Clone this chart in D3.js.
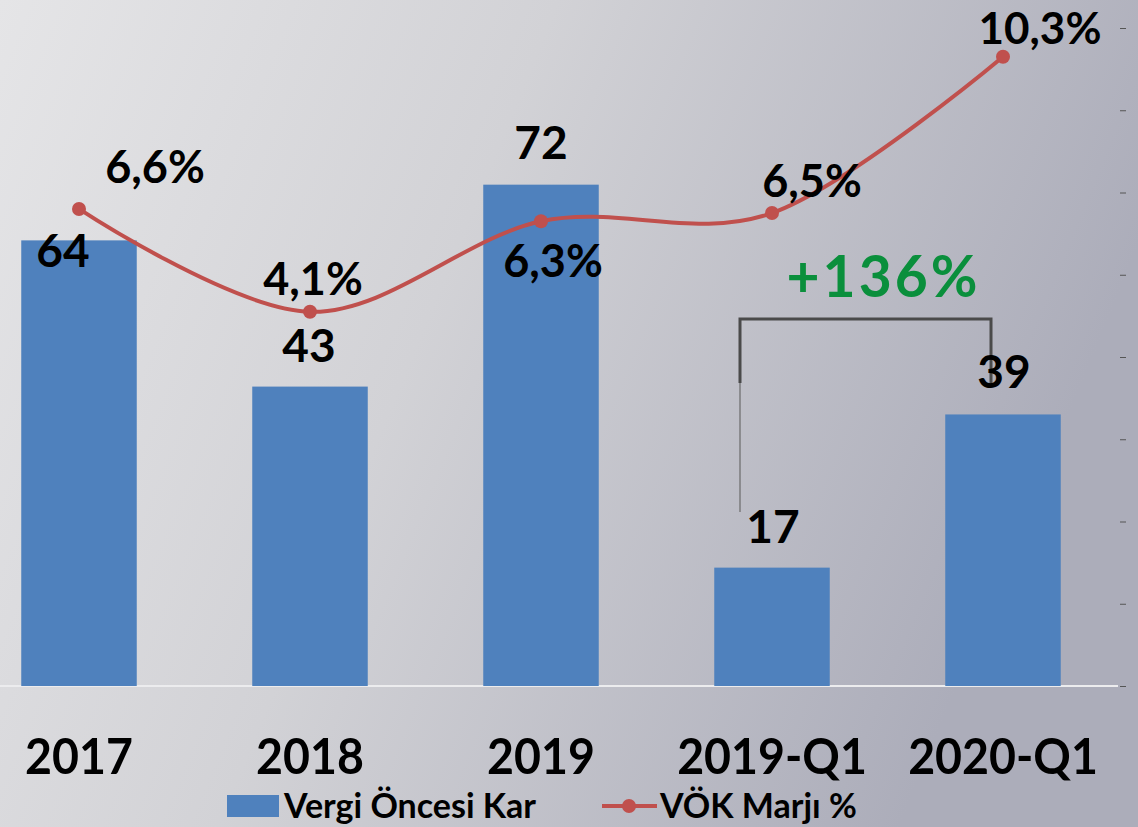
<!DOCTYPE html>
<html>
<head>
<meta charset="utf-8">
<script src="https://cdn.jsdelivr.net/npm/d3@7"></script>
<style>
  body { margin: 0; overflow: hidden; }
  text { font-family: Lato, "Open Sans", sans-serif; font-weight: bold; }
</style>
</head>
<body>
<div id="chart"></div>
<script>
// chart values
var categories = ['2017', '2018', '2019', '2019-Q1', '2020-Q1'];
var profit = [64, 43, 72, 17, 39];
var marginPct = [6.6, 4.1, 6.3, 6.5, 10.3];
var marginLabels = ['6,6%', '4,1%', '6,3%', '6,5%', '10,3%'];
var rightTicks = [-5, -3, -1, 1, 3, 5, 7, 9, 11];
var seriesNames = ['Vergi Öncesi Kar', 'VÖK Marjı %'];
var growthLabel = '+136%';

var width = 1138, height = 827;
var barColor = '#4f81bd', lineColor = '#c0504d';

var svg = d3.select('#chart').append('svg')
  .attr('width', width)
  .attr('height', height);

// background gradient
var grad = svg.append('defs').append('linearGradient')
  .attr('id', 'bg')
  .attr('x1', '0').attr('y1', '0').attr('x2', '1').attr('y2', '0.3');
grad.append('stop').attr('offset', '0%').attr('stop-color', '#e5e5e7');
grad.append('stop').attr('offset', '45%').attr('stop-color', '#d2d2d6');
grad.append('stop').attr('offset', '100%').attr('stop-color', '#acadba');
svg.append('rect').attr('width', width).attr('height', height).attr('fill', 'url(#bg)');

// scales
var x = d3.scaleBand().domain(categories).range([-36.5, 1118.5])
  .paddingInner(0.5).paddingOuter(0.25);
var y = d3.scaleLinear().domain([0, 94.5]).range([686, 28]);
var y2 = d3.scaleLinear().domain([-5, 11]).range([686, 28]);
var cx = function (i) { return x(categories[i]) + x.bandwidth() / 2; };

// baseline
svg.append('line')
  .attr('x1', 0).attr('x2', 1118)
  .attr('y1', y(0)).attr('y2', y(0))
  .attr('stroke', '#ececee').attr('stroke-width', 2);

// right axis ticks (no labels)
var ax = svg.append('g')
  .attr('transform', 'translate(1120,0)')
  .call(d3.axisRight(y2).tickValues(rightTicks).tickSize(6).tickFormat(''));
ax.select('.domain').remove();
ax.selectAll('.tick line').attr('stroke', '#555').attr('stroke-width', 1);

// bars
svg.append('g').selectAll('rect')
  .data(profit)
  .enter()
  .append('rect')
  .attr('x', function (d, i) { return x(categories[i]); })
  .attr('y', function (d) { return y(d); })
  .attr('width', x.bandwidth())
  .attr('height', function (d) { return y(0) - y(d); })
  .attr('fill', barColor);

// growth bracket
var bl = cx(3) - 32, br = cx(4) - 12, bTop = 319;
svg.append('path')
  .attr('d', 'M' + bl + ',383 V' + bTop + ' H' + br + ' V385')
  .attr('fill', 'none').attr('stroke', '#4a4a4a').attr('stroke-width', 3);
svg.append('line')
  .attr('x1', bl).attr('x2', bl).attr('y1', 383).attr('y2', 512)
  .attr('stroke', '#6a6a6a').attr('stroke-width', 1.2);
svg.append('text')
  .attr('x', (bl + br) / 2 + 18).attr('y', 297)
  .attr('text-anchor', 'middle')
  .attr('font-size', 57)
  .attr('letter-spacing', 3)
  .attr('fill', '#0a8f3c')
  .text(growthLabel);

// line
var line = d3.line()
  .x(function (d, i) { return cx(i); })
  .y(function (d) { return y2(d); })
  .curve(d3.curveCardinal.tension(0));
svg.append('path')
  .datum(marginPct)
  .attr('d', line)
  .attr('fill', 'none')
  .attr('stroke', lineColor)
  .attr('stroke-width', 4);
svg.append('g').selectAll('circle')
  .data(marginPct)
  .enter()
  .append('circle')
  .attr('cx', function (d, i) { return cx(i); })
  .attr('cy', function (d) { return y2(d); })
  .attr('r', 7)
  .attr('fill', lineColor);

// bar labels
var barLabelOff = [[-16, 27], [-1, -25], [0, -26], [1, -25], [1, -26]];
svg.append('g').selectAll('text')
  .data(profit)
  .enter()
  .append('text')
  .attr('x', function (d, i) { return cx(i) + barLabelOff[i][0]; })
  .attr('y', function (d, i) { return y(d) + barLabelOff[i][1]; })
  .attr('text-anchor', 'middle')
  .attr('font-size', 46)
  .attr('fill', '#000')
  .text(function (d) { return d; });

// line labels
var lineLabelOff = [[76, -26], [3, -17], [12, 56], [40, -16], [37, -13]];
svg.append('g').selectAll('text')
  .data(marginPct)
  .enter()
  .append('text')
  .attr('x', function (d, i) { return cx(i) + lineLabelOff[i][0]; })
  .attr('y', function (d, i) { return y2(d) + lineLabelOff[i][1]; })
  .attr('text-anchor', 'middle')
  .attr('font-size', function (d, i) { return i === 4 ? 44 : 45; })
  .attr('fill', '#000')
  .text(function (d, i) { return marginLabels[i]; });

// category labels (slightly condensed)
svg.append('g').selectAll('text')
  .data(categories)
  .enter()
  .append('text')
  .attr('transform', function (d, i) { return 'translate(' + cx(i) + ',774) scale(0.93,1)'; })
  .attr('text-anchor', 'middle')
  .attr('font-size', 50)
  .attr('fill', '#000')
  .text(function (d) { return d; });

// legend
var lg = svg.append('g');
lg.append('rect').attr('x', 227).attr('y', 795).attr('width', 52).attr('height', 22).attr('fill', barColor);
lg.append('text').attr('x', 284).attr('y', 818).attr('font-size', 34).attr('fill', '#000').text(seriesNames[0]);
lg.append('line').attr('x1', 602).attr('x2', 657).attr('y1', 806).attr('y2', 806)
  .attr('stroke', lineColor).attr('stroke-width', 4);
lg.append('circle').attr('cx', 629).attr('cy', 806).attr('r', 7).attr('fill', lineColor);
lg.append('text').attr('x', 660).attr('y', 818).attr('font-size', 34).attr('fill', '#000').text(seriesNames[1]);
</script>
</body>
</html>
